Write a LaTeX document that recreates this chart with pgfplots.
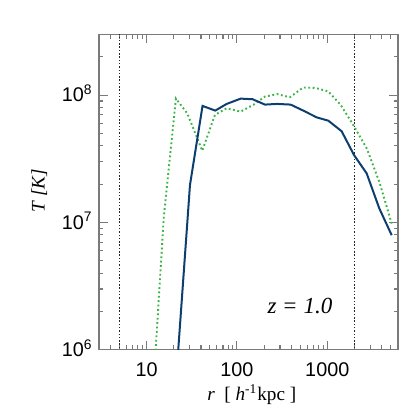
\documentclass[border=0pt]{standalone}
\usepackage{fontspec}
\setmainfont{Liberation Sans}
\newfontfamily\tms{Liberation Serif}
\usepackage{pgfplots}
\pgfplotsset{compat=1.18}
\definecolor{navy}{HTML}{0D3F6E}
\definecolor{lgreen}{HTML}{3CB44A}
\definecolor{frame}{HTML}{7A7A7A}

\begin{document}
\begin{tikzpicture}
\path[use as bounding box] (-49.5pt,-35pt) rectangle (160.5pt,174.85pt);
\begin{axis}[
    at={(0,0)}, anchor=south west,
    scale only axis,
    width=149.5pt, height=157.6pt,
    xmode=log, ymode=log,
    xmin=2.97, xmax=6070,
    ymin=1e6, ymax=3e8,
    xtick={10,100,1000},
    xticklabels={10,100,1000},
    minor xtick={3,4,5,6,7,8,9,20,30,40,50,60,70,80,90,200,300,400,500,600,700,800,900,2000,3000,4000,5000,6000},
    ytick={1e6,1e7,1e8},
    yticklabels={10\textsuperscript{6},10\textsuperscript{7},10\textsuperscript{8}},
    minor ytick={2e6,3e6,4e6,5e6,6e6,7e6,8e6,9e6,2e7,3e7,4e7,5e7,6e7,7e7,8e7,9e7,2e8,3e8},
    major tick length=4.3pt,
    minor tick length=2.2pt,
    axis line style={frame, line width=0.6pt},
    every tick/.style={frame, line width=0.55pt},
    tick label style={font=\fontsize{9.9}{11}\selectfont},
    xticklabel style={yshift=-3pt},
    yticklabel style={yshift=0.8pt, xshift=0.3pt},
    xlabel={\tms\itshape r\upshape\ \ [ \itshape h\upshape\textsuperscript{-1}kpc ]},
    ylabel={\tms\itshape T [K]},
    label style={font=\fontsize{9.6}{11}\selectfont},
    xlabel style={at={(axis description cs:0.511,-0.142)}, anchor=center},
    ylabel style={at={(axis description cs:-0.2,0.505)}, anchor=center},
    clip=true,
]
\addplot[black!85, line width=0.75pt, dash pattern=on 0.75pt off 0.9pt] coordinates {(5,1e5) (5,1e9)};
\addplot[black!85, line width=0.75pt, dash pattern=on 0.75pt off 0.9pt] coordinates {(2000,1e5) (2000,1e9)};
\addplot[lgreen, line width=0.95pt, dash pattern=on 0.9pt off 1.3pt] coordinates {
    (11.35,3e5) (15.5,1.107e7) (21.1,9.4e7) (28.2,7.2e7) (41.3,3.66e7)
    (57,7.0e7) (76.9,7.9e7) (110,7.43e7) (152,8.4e7) (204,9.75e7)
    (279,1.02e8) (385,9.64e7) (542,1.15e8) (743,1.14e8) (1026,1.07e8)
    (1406,8.4e7) (1940,5.84e7) (2730,3.83e7) (3767,2.09e7) (5166,9.8e6)
};
\addplot[navy, line width=1pt] coordinates {
    (21.9,8e5) (30.2,1.97e7) (41.6,8.24e7) (57.5,7.57e7) (76.9,8.54e7)
    (110,9.4e7) (149,9.3e7) (204,8.44e7) (279,8.54e7) (393,8.44e7)
    (542,7.57e7) (763,6.7e7) (1026,6.31e7) (1443,5.21e7) (1976,3.39e7)
    (2730,2.43e7) (3767,1.29e7) (5166,7.94e6)
};
\node[font=\tms\itshape\fontsize{11.5}{13}\selectfont, anchor=center] at (axis description cs:0.672,0.137) {z = 1.0};
\end{axis}
\end{tikzpicture}
\end{document}
